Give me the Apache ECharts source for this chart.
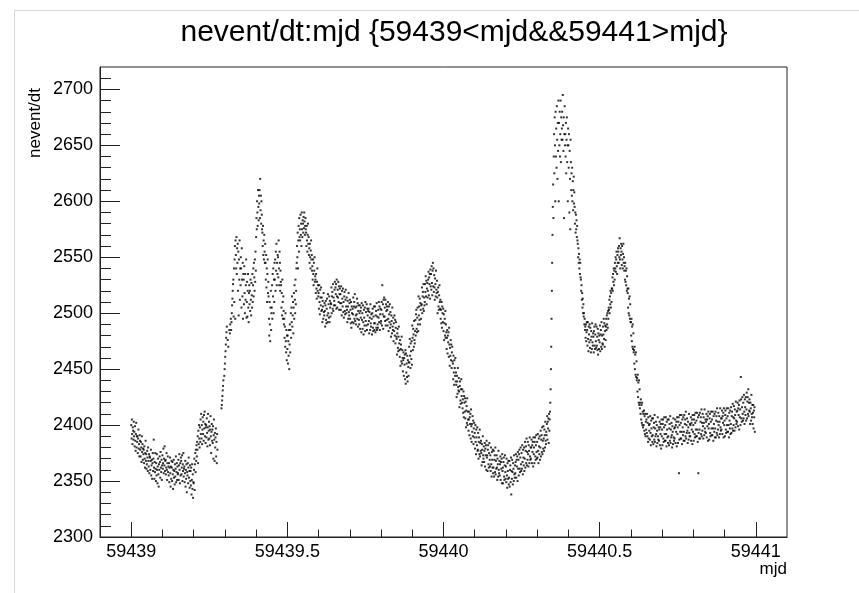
<!DOCTYPE html>
<html><head><meta charset="utf-8">
<script src="https://cdn.jsdelivr.net/npm/echarts@6/dist/echarts.min.js"></script>
<style>html,body{margin:0;padding:0;background:#fff}#c{width:859px;height:593px}</style>
</head><body><div id="c"></div>
<script>
// Time series sampled every 0.001 day starting at MJD 59439.000; null = no sample
const startMjd = 59439.0;
const stepMjd = 0.001;
const seg00 = [2400,2388,2405,2392,2383,2398,2395,2387,2403,2390,2394,2381,2399,2386,2377,2392,2402,2380,2390,2385,2390,2375,2388,2396,2379,2383,2372,2391,2386,2378,2372,2385,2380,2367,2390,2376,2383,2369,2379,2374,2378,2366,2381,2370,2362,2375,2386,2368,2374,2361,2365,2377,2371,2359,2380,2368,2363,2374,2357,2372,2371,2360,2368,2378,2355,2364,2369,2352,2366,2375,2359,2370,2387,2362,2352,2367,2358,2375,2361,2350,2366,2355,2374,2360,2348,2363,2370,2356,2345,2365,2360,2372,2367,2353,2376,2362,2358,2369,2351,2364];
const seg01 = [2373,2361,2366,2379,2357,2370,2364,2381,2359,2368,2369,2356,2362,2375,2360,2351,2366,2372,2358,2363,2355,2366,2349,2362,2371,2357,2345,2363,2352,2368,2362,2350,2367,2356,2343,2360,2369,2353,2359,2347,2365,2354,2361,2372,2349,2358,2366,2351,2363,2356,2357,2369,2351,2364,2374,2360,2348,2366,2355,2371,2368,2356,2362,2373,2350,2365,2359,2375,2354,2361,2363,2349,2357,2368,2345,2360,2352,2365,2340,2358,2355,2366,2348,2362,2371,2353,2359,2344,2364,2350,2359,2346,2362,2338,2351,2365,2343,2356,2335,2349];
const seg02 = [2348,2360,2370,2342,2365,2375,2358,2378,2368,2382,2372,2385,2378,2390,2366,2395,2383,2400,2388,2380,2398,2385,2405,2392,2410,2388,2400,2383,2396,2407,2392,2403,2386,2409,2397,2412,2390,2401,2384,2398,2400,2389,2406,2393,2381,2398,2410,2387,2395,2403,2388,2399,2382,2396,2408,2390,2375,2394,2401,2386,2396,2384,2399,2370,2391,2405,2387,2368,2393,2380,2389,2397,2372,2385,2366,2392,2378,null,null,null,null,null,null,null,null,null,null,null,null,2415,2418,2422,2426,2431,2435,2440,null,null,2444,2450];
const seg03 = [2455,2461,2466,2472,2478,2483,2488,null,null,2476,null,2470,null,null,2485,null,2482,2490,null,2495,2485,2492,2500,2507,2513,2520,2526,2530,2497,2540,2510,2548,2560,2495,2565,2552,2540,2568,2535,2558,2545,2562,2520,2555,2498,2548,2530,2565,2512,2540,2525,2550,2540,2505,2558,2530,2515,2545,2495,2535,2530,2508,2542,2518,2500,2535,2512,2525,2548,2496,2510,2528,2497,2520,2535,2505,2492,2518,2525,2508,2520,2502,2530,2512,2498,2527,2516,2505,2535,2510,2525,2540,2515,2545,2532,2520,2548,2528,2555,2538];
const seg04 = [2568,2585,2575,2600,2590,2578,2610,2595,2583,2605,2598,2610,2585,2620,2592,2605,2580,2600,2588,2575,2572,2560,2578,2552,2565,2548,2570,2555,2545,2562,2545,2530,2552,2523,2540,2510,2535,2548,2518,2528,2515,2495,2480,2510,2490,2475,2505,2520,2485,2500,2505,2525,2495,2535,2515,2540,2500,2530,2510,2545,2530,2548,2520,2555,2538,2562,2525,2545,2535,2552,2550,2532,2565,2540,2525,2555,2545,2520,2538,2528,2525,2505,2518,2498,2530,2510,2495,2515,2502,2490,2495,2478,2488,2470,2500,2475,2465,2485,2458,2480];
const seg05 = [2468,2480,2455,2475,2462,2485,2450,2472,2490,2465,2485,2500,2478,2505,2492,2515,2488,2498,2510,2482,2505,2518,2495,2525,2512,2500,2530,2508,2520,2540,2545,2560,2550,2572,2540,2565,2578,2555,2585,2568,2575,2565,2588,2570,2580,2560,2590,2575,2568,2583,2580,2572,2586,2576,2590,2582,2570,2578,2585,2575,2572,2560,2578,2565,2555,2570,2580,2562,2568,2552,2558,2545,2562,2550,2540,2556,2565,2548,2552,2538,2542,2530,2548,2535,2525,2545,2538,2550,2528,2533,2530,2518,2535,2522,2513,2528,2540,2520,2525,2515];
const seg06 = [2518,2504,2525,2510,2499,2521,2514,2507,2523,2502,2514,2503,2492,2511,2506,2495,2518,2501,2498,2509,2502,2488,2507,2511,2494,2491,2504,2513,2498,2492,2517,2500,2508,2496,2515,2492,2511,2505,2497,2509,2508,2523,2500,2515,2519,2504,2526,2502,2514,2507,2511,2521,2528,2507,2523,2517,2526,2504,2530,2515,2505,2521,2514,2528,2510,2524,2503,2517,2522,2509,2517,2503,2524,2509,2498,2520,2513,2506,2522,2501,2510,2496,2515,2519,2502,2499,2512,2521,2506,2500,2514,2503,2492,2511,2506,2495,2518,2501,2498,2509];
const seg07 = [2512,2495,2503,2491,2510,2487,2506,2500,2492,2504,2499,2514,2491,2506,2510,2495,2517,2493,2505,2498,2490,2506,2499,2513,2495,2509,2488,2502,2507,2494,2490,2500,2507,2486,2502,2496,2505,2483,2509,2494,2500,2486,2507,2492,2481,2503,2496,2489,2505,2484,2510,2493,2501,2489,2508,2485,2504,2498,2490,2502,2504,2493,2482,2501,2496,2485,2508,2491,2488,2499,2495,2481,2500,2504,2487,2484,2497,2506,2491,2485,2491,2506,2483,2498,2502,2487,2509,2485,2497,2490,2487,2503,2496,2510,2492,2506,2485,2499,2504,2491];
const seg08 = [2493,2503,2510,2489,2525,2499,2508,2486,2512,2497,2514,2497,2505,2493,2512,2489,2508,2502,2494,2506,2503,2489,2510,2495,2484,2506,2499,2492,2508,2487,2501,2490,2479,2498,2493,2482,2505,2488,2485,2496,2475,2491,2484,2498,2480,2494,2473,2487,2492,2479,2477,2463,2482,2486,2469,2466,2479,2488,2473,2467,2461,2476,2453,2468,2472,2457,2479,2455,2467,2460,2448,2458,2465,2444,2460,2454,2463,2441,2467,2437,2464,2447,2455,2443,2462,2439,2458,2452,2444,2456,2470,2456,2477,2462,2451,2473,2466,2459,2475,2454];
const seg09 = [2489,2478,2467,2486,2481,2470,2493,2476,2473,2484,2494,2480,2499,2503,2486,2483,2496,2505,2490,2484,2515,2498,2506,2494,2513,2490,2509,2503,2495,2507,2508,2523,2500,2515,2519,2504,2526,2502,2514,2507,2510,2526,2519,2533,2515,2529,2508,2522,2527,2514,2520,2530,2537,2516,2532,2526,2535,2513,2539,2524,2535,2521,2542,2527,2516,2538,2545,2524,2540,2519,2534,2523,2512,2531,2526,2515,2538,2521,2518,2529,2514,2500,2519,2523,2506,2503,2516,2525,2510,2504,2512,2495,2503,2491,2510,2487,2506,2500,2492,2504];
const seg10 = [2484,2499,2476,2491,2495,2480,2502,2478,2490,2483,2468,2478,2485,2464,2480,2474,2483,2461,2487,2472,2453,2469,2462,2476,2458,2472,2451,2465,2470,2457,2455,2441,2462,2447,2436,2458,2451,2444,2460,2439,2447,2436,2425,2444,2439,2428,2451,2434,2431,2442,2430,2416,2435,2439,2422,2419,2432,2441,2426,2420,2432,2415,2423,2411,2430,2407,2426,2420,2412,2424,2406,2421,2398,2413,2417,2402,2424,2400,2412,2405,2395,2405,2412,2391,2407,2401,2410,2388,2414,2399,2385,2401,2394,2408,2390,2404,2383,2397,2402,2389];
const seg11 = [2393,2379,2400,2385,2374,2396,2389,2382,2398,2377,2378,2393,2370,2385,2389,2374,2396,2372,2384,2377,2386,2375,2364,2383,2378,2367,2390,2373,2370,2381,2367,2377,2384,2363,2379,2373,2382,2360,2386,2371,2373,2359,2378,2382,2365,2362,2375,2384,2369,2363,2373,2359,2380,2365,2354,2376,2369,2362,2378,2357,2362,2377,2354,2369,2373,2358,2380,2356,2368,2361,2373,2362,2351,2370,2365,2354,2377,2360,2357,2368,2355,2365,2372,2351,2367,2361,2370,2348,2374,2359,2362,2348,2367,2371,2354,2351,2364,2373,2358,2352];
const seg12 = [2363,2349,2370,2355,2344,2366,2359,2352,2368,2347,2353,2368,2345,2360,2364,2349,2371,2338,2359,2352,2369,2358,2347,2366,2361,2350,2373,2356,2353,2364,2357,2367,2374,2353,2369,2363,2372,2350,2376,2361,2369,2355,2374,2378,2361,2358,2371,2380,2365,2359,2375,2361,2382,2367,2356,2378,2371,2364,2380,2359,2370,2385,2362,2377,2381,2366,2388,2364,2376,2369,2385,2374,2363,2382,2377,2366,2389,2372,2369,2380,2370,2380,2387,2366,2382,2376,2385,2363,2389,2374,2380,2366,2385,2389,2372,2369,2382,2391,2376,2370];
const seg13 = [2385,2371,2392,2377,2366,2388,2381,2374,2390,2369,2380,2395,2372,2387,2391,2376,2398,2374,2386,2379,2399,2388,2377,2396,2391,2380,2403,2386,2383,2394,2391,2401,2408,2387,2403,2397,2406,2384,2410,2395,2405,2412,2420,2432,2450,2470,2495,2520,2545,2570,2595,2615,2585,2640,2660,2625,2675,2650,2600,2680,2640,2665,2630,2685,2655,2620,2670,2645,2690,2600,2670,2650,2680,2640,2660,2690,2635,2675,2655,2665,2680,2655,2695,2668,2645,2675,2585,2660,2685,2650,2660,2640,2670,2625,2655,2675,2635,2650,2600,2665];
const seg14 = [2650,2630,2660,2590,2645,2620,2575,2655,2635,2610,2625,2605,2630,2600,2618,2592,2610,2622,2598,2608,2595,2580,2590,2572,2588,2575,2583,2568,2578,2565,2562,2550,2558,2545,2553,2540,2548,2535,2545,2532,2530,2520,2525,2512,2518,2505,2513,2500,2508,2497,2500,2490,2495,2485,2488,2478,2490,2475,2483,2492,2485,2471,2492,2477,2466,2488,2481,2474,2490,2469,2487,2476,2465,2484,2479,2468,2491,2474,2471,2482,2479,2465,2484,2488,2471,2468,2481,2490,2475,2469,2488,2471,2479,2467,2486,2463,2482,2476,2468,2480];
const seg15 = [2474,2489,2466,2481,2485,2470,2492,2468,2480,2473,2472,2488,2481,2495,2477,2491,2470,2484,2489,2476,2488,2495,2485,2498,2490,2500,2487,2502,2495,2505,2503,2512,2500,2515,2508,2520,2505,2518,2510,2522,2522,2532,2520,2535,2528,2540,2525,2538,2530,2545,2540,2550,2537,2548,2555,2542,2535,2552,2545,2558,2555,2545,2560,2550,2567,2548,2540,2558,2552,2562,2555,2543,2560,2548,2540,2553,2562,2545,2550,2538,2542,2530,2545,2528,2538,2525,2540,2520,2533,2522,2518,2505,2522,2500,2513,2498,2515,2495,2508,2492];
const seg16 = [2492,2480,2495,2475,2488,2470,2490,2468,2482,2465,2467,2455,2470,2450,2463,2445,2465,2443,2457,2440,2442,2430,2445,2425,2438,2420,2440,2418,2432,2415,2420,2410,2423,2405,2418,2402,2420,2400,2412,2398,2410,2400,2413,2395,2408,2392,2410,2390,2403,2396,2405,2393,2410,2390,2402,2385,2407,2388,2400,2395,2401,2387,2408,2393,2382,2404,2397,2390,2406,2385,2391,2406,2383,2398,2402,2387,2409,2385,2397,2390,2403,2392,2381,2400,2395,2384,2407,2390,2387,2398,2386,2396,2403,2382,2398,2392,2401,2379,2405,2390];
const seg17 = [2396,2382,2401,2405,2388,2385,2398,2407,2392,2386,2400,2386,2407,2392,2381,2403,2396,2389,2405,2384,2390,2405,2382,2397,2401,2386,2408,2384,2396,2389,2402,2391,2380,2399,2394,2383,2406,2389,2386,2397,2388,2398,2405,2384,2400,2394,2403,2381,2407,2392,2398,2384,2403,2407,2357,2387,2400,2409,2394,2388,2402,2388,2409,2394,2383,2405,2398,2391,2407,2386,2394,2409,2386,2401,2405,2390,2412,2388,2400,2393,2406,2395,2384,2403,2398,2387,2410,2393,2390,2401,2390,2400,2407,2386,2402,2396,2405,2383,2409,2394];
const seg18 = [2400,2386,2405,2409,2392,2389,2402,2411,2396,2390,2404,2390,2411,2396,2385,2407,2357,2393,2409,2388,2396,2411,2388,2403,2407,2392,2414,2390,2402,2395,2410,2399,2388,2407,2402,2391,2414,2397,2394,2405,2393,2403,2410,2389,2405,2399,2408,2386,2412,2397,2401,2387,2406,2410,2393,2390,2403,2412,2397,2391,2405,2391,2412,2397,2386,2408,2401,2394,2410,2389,2397,2412,2389,2404,2408,2393,2415,2391,2403,2396,2411,2400,2389,2408,2403,2392,2415,2398,2395,2406,2396,2406,2413,2392,2408,2402,2411,2389,2415,2400];
const seg19 = [2404,2390,2409,2413,2396,2393,2406,2415,2400,2394,2408,2394,2415,2400,2389,2411,2404,2397,2413,2392,2401,2416,2393,2408,2412,2397,2419,2395,2407,2400,2417,2406,2395,2414,2409,2398,2421,2404,2401,2412,2403,2413,2420,2399,2415,2409,2418,2396,2422,2407,2414,2400,2443,2423,2406,2403,2416,2425,2410,2404,2420,2406,2427,2412,2401,2423,2416,2409,2425,2404,2414,2429,2406,2421,2425,2410,2432,2408,2420,2413,2423,2412,2401,2420,2415,2404,2427,2410,2407,2418,2401,2411,2418,2397,2413,2407,2416,2394,null,null];

const xMajorTicks = [59439, 59439.5, 59440, 59440.5, 59441];
const xMinorTicks = [59439,59439.1,59439.2,59439.3,59439.4,59439.5,59439.6,59439.7,59439.8,59439.9,59440,59440.1,59440.2,59440.3,59440.4,59440.5,59440.6,59440.7,59440.8,59440.9,59441];
const yMajorTicks = [2300, 2350, 2400, 2450, 2500, 2550, 2600, 2650, 2700];
const yMinorTicks = [2300,2310,2320,2330,2340,2350,2360,2370,2380,2390,2400,2410,2420,2430,2440,2450,2460,2470,2480,2490,2500,2510,2520,2530,2540,2550,2560,2570,2580,2590,2600,2610,2620,2630,2640,2650,2660,2670,2680,2690,2700,2710];

const segments = [seg00,seg01,seg02,seg03,seg04,seg05,seg06,seg07,seg08,seg09,seg10,seg11,seg12,seg13,seg14,seg15,seg16,seg17,seg18,seg19];
const points = [];
segments.forEach((seg, k) => {
  seg.forEach((v, i) => {
    if (v !== null) points.push([+(startMjd + (k * seg.length + i) * stepMjd).toFixed(3), v]);
  });
});

const FONT = '"Liberation Sans", Arial, Helvetica, sans-serif';
const AX = '#222';
const xmin = 59438.9, xmax = 59441.1, ymin = 2300, ymax = 2720;

const chart = echarts.init(document.getElementById('c'), null, {renderer: 'canvas'});
chart.setOption({
  animation: false,
  backgroundColor: '#fff',
  grid: {left: 100, right: 72, top: 67, bottom: 56, show: true, borderColor: AX, borderWidth: 1, backgroundColor: 'transparent'},
  xAxis: [
    {
      type: 'value', min: xmin, max: xmax, position: 'bottom',
      axisLine: {show: true, onZero: false, lineStyle: {color: AX, width: 1}},
      axisTick: {show: true, inside: true, length: 15, customValues: xMajorTicks, lineStyle: {color: AX}},
      axisLabel: {show: true, customValues: xMajorTicks, margin: 6, fontSize: 18, fontFamily: FONT, color: '#000', formatter: v => String(v)},
      splitLine: {show: false}
    },
    {
      type: 'value', min: xmin, max: xmax, position: 'bottom',
      axisLine: {show: false},
      axisTick: {show: true, inside: true, length: 7.5, customValues: xMinorTicks, lineStyle: {color: AX}},
      axisLabel: {show: false},
      splitLine: {show: false}
    }
  ],
  yAxis: [
    {
      type: 'value', min: ymin, max: ymax, position: 'left',
      axisLine: {show: true, onZero: false, lineStyle: {color: AX, width: 1}},
      axisTick: {show: true, inside: true, length: 20, customValues: yMajorTicks, lineStyle: {color: AX}},
      axisLabel: {show: true, customValues: yMajorTicks, margin: 7, fontSize: 18, fontFamily: FONT, color: '#000', formatter: v => String(v)},
      splitLine: {show: false}
    },
    {
      type: 'value', min: ymin, max: ymax, position: 'left',
      axisLine: {show: false},
      axisTick: {show: true, inside: true, length: 11, customValues: yMinorTicks, lineStyle: {color: AX}},
      axisLabel: {show: false},
      splitLine: {show: false}
    }
  ],
  graphic: [
    {type: 'text', x: 454, y: 33, style: {text: 'nevent/dt:mjd {59439<mjd&&59441>mjd}', font: '30px ' + FONT, fill: '#000', align: 'center', verticalAlign: 'middle'}},
    {type: 'text', x: 35, y: 88, rotation: Math.PI / 2, style: {text: 'nevent/dt', font: '17px ' + FONT, fill: '#000', align: 'right', verticalAlign: 'middle'}},
    {type: 'text', x: 787, y: 569, style: {text: 'mjd', font: '17px ' + FONT, fill: '#000', align: 'right', verticalAlign: 'middle'}},
    {type: 'line', shape: {x1: 14.5, y1: 10, x2: 14.5, y2: 593}, style: {stroke: '#d6d6d6', lineWidth: 1}},
    {type: 'line', shape: {x1: 14, y1: 10.5, x2: 859, y2: 10.5}, style: {stroke: '#d6d6d6', lineWidth: 1}}
  ],
  series: [{
    type: 'scatter', xAxisIndex: 0, yAxisIndex: 0,
    data: points, symbol: 'rect', symbolSize: 2,
    itemStyle: {color: '#000'}, silent: true, large: false
  }]
});
</script></body></html>
